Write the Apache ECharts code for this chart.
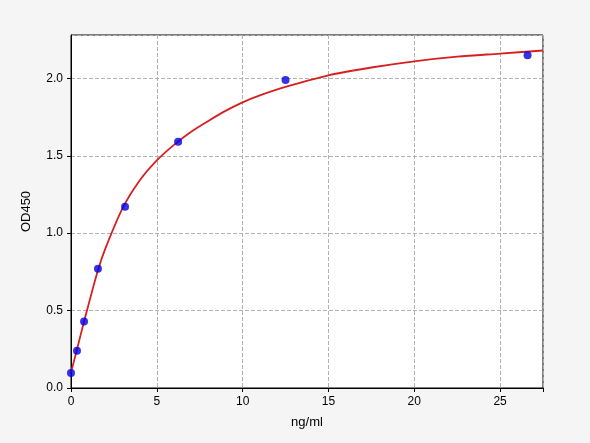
<!DOCTYPE html>
<html><head><meta charset="utf-8">
<script src="https://cdn.jsdelivr.net/npm/echarts@6/dist/echarts.min.js"></script>
<style>body{margin:0;background:#f5f5f5}#c{width:590px;height:443px}</style>
</head><body><div id="c"></div>
<script>
// standards (concentration, OD)
const stdX = [0, 0.35, 0.76, 1.57, 3.15, 6.24, 12.5, 26.6];
const stdY = [0.097, 0.24, 0.43, 0.77, 1.17, 1.59, 1.99, 2.15];
// fitted curve
const fitX = [0, 0.35, 0.76, 1, 1.57, 2, 3, 4, 5, 6, 7, 8, 9, 10, 11, 12.5, 15, 17.5, 20, 22.5, 25, 27.5];
const fitY = [0.1, 0.25, 0.43, 0.53, 0.76, 0.9, 1.16, 1.34, 1.47, 1.57, 1.655, 1.725, 1.79, 1.845, 1.89, 1.945, 2.02, 2.07, 2.11, 2.14, 2.16, 2.18];

const chart = echarts.init(document.getElementById('c'));
const dash = {show: true, lineStyle: {type: 'dashed', color: '#b0b0b0'}};
chart.setOption({
  backgroundColor: '#f5f5f5',
  animation: false,
  grid: {left: 71, right: 47, top: 35, bottom: 55, show: true, backgroundColor: '#fff', borderColor: '#000', borderWidth: 1},
  xAxis: {type: 'value', min: 0, max: 27.5, interval: 5, name: 'ng/ml', nameLocation: 'middle', nameGap: 28,
    nameTextStyle: {fontSize: 13, color: '#000'},
    axisLine: {lineStyle: {color: '#000'}}, axisTick: {show: true, length: 4},
    axisLabel: {color: '#000', fontSize: 12, formatter: v => v % 5 === 0 ? v : ''}, splitLine: dash},
  yAxis: {type: 'value', min: 0, max: 2.28, interval: 0.5, name: 'OD450', nameLocation: 'middle', nameGap: 38,
    nameTextStyle: {fontSize: 13, color: '#000'},
    axisLine: {show: true, lineStyle: {color: '#000'}}, axisTick: {show: true, length: 4},
    axisLabel: {color: '#000', fontSize: 12, showMaxLabel: false,
      formatter: v => (Math.abs(v * 2 - Math.round(v * 2)) < 1e-6) ? v.toFixed(1) : ''}, splitLine: dash},
  series: [
    {type: 'line', data: fitX.map((x, i) => [x, fitY[i]]), smooth: 0.3, showSymbol: false,
      lineStyle: {color: '#d62020', width: 1.8}, z: 3},
    {type: 'scatter', data: stdX.map((x, i) => [x, stdY[i]]), symbolSize: 8,
      itemStyle: {color: '#0000e6'}, z: 4}
  ]
});
</script></body></html>
